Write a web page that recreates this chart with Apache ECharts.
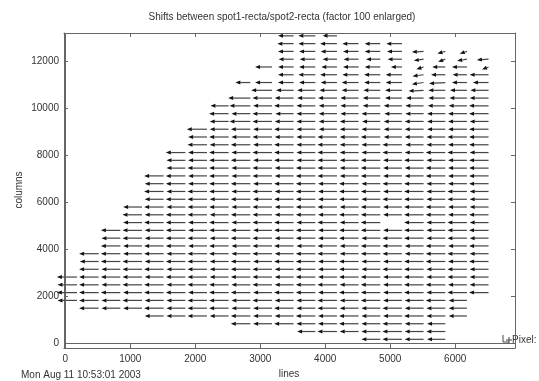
<!DOCTYPE html>
<html>
<head>
<meta charset="utf-8">
<script src="https://cdn.jsdelivr.net/npm/echarts@6/dist/echarts.min.js"></script>
<style>
  html, body { margin: 0; padding: 0; background: #fff; }
  #chart { width: 539px; height: 381px; }
</style>
</head>
<body>
<div id="chart"></div>
<script>
// tail positions of the measurement grid (lines / columns)
var colX = [180, 513, 847, 1180, 1513, 1847, 2180, 2513, 2847, 3180,
            3513, 3847, 4180, 4513, 4847, 5180, 5513, 5847, 6180, 6513];
var rowY = [170, 501, 832, 1163, 1494, 1825, 2156, 2487, 2818, 3149,
            3480, 3811, 4142, 4473, 4804, 5135, 5466, 5797, 6128, 6459,
            6790, 7121, 7452, 7783, 8114, 8445, 8776, 9107, 9438, 9769,
            10100, 10431, 10762, 11093, 11424, 11755, 12086, 12417, 12748, 13079];

// first grid column that has a vector, for each row (bottom to top)
var rowStart = [14, 11, 8, 4, 1, 0, 0, 0, 0, 1, 1, 1, 2, 2, 2, 3, 3, 3, 4, 4,
                4, 4, 5, 5, 5, 6, 6, 6, 7, 7, 7, 8, 9, 8, 10, 9, 10, 10, 10, 10];

// shift in x (pixel), one entry per vector of the row, null = no vector
var shiftX = [
  [-2.9, -3.0, -2.9, -2.8],
  [-2.8, -3.0, -2.9, -2.9, -3.0, -2.9, -2.9],
  [-3.0, -2.9, -3.0, -2.9, -2.9, -3.0, -2.9, -3.0, -2.9, -2.8],
  [-2.9, -2.9, -3.0, -2.9, -3.0, -2.9, -2.9, -3.0, -2.9, -3.0, -2.9, -2.9, -3.0, -2.9, -2.8],
  [-3.0, -2.9, -2.9, -3.0, -2.9, -3.0, -3.0, -2.9, -2.9, -3.0, -2.9, -3.0, -2.9, -2.9, -3.0, -2.9, -2.9, -2.8],
  [-3.0, -3.0, -2.9, -3.0, -2.9, -2.9, -3.0, -3.0, -2.9, -3.0, -2.9, -2.9, -3.0, -2.9, -3.0, -2.9, -2.9, -3.0, -2.8],
  [-3.1, -3.0, -3.0, -2.9, -3.0, -3.0, -2.9, -3.0, -3.0, -2.9, -3.0, -3.0, -2.9, -3.0, -3.0, -2.9, -3.0, -2.9, -3.0, -3.0],
  [-3.0, -3.0, -2.9, -3.0, -3.0, -2.9, -3.0, -3.0, -2.9, -3.0, -2.9, -3.0, -3.0, -2.9, -3.0, -2.9, -3.0, -3.0, -2.9, -2.9],
  [-3.1, -3.0, -3.0, -3.0, -2.9, -3.0, -3.0, -2.9, -3.0, -3.0, -2.9, -3.0, -2.9, -3.0, -3.0, -2.9, -3.0, -2.9, -3.0, -2.9],
  [-3.0, -2.9, -3.0, -3.0, -2.9, -3.0, -2.9, -3.0, -3.0, -2.9, -3.0, -2.9, -3.0, -2.9, -3.0, -3.0, -2.9, -3.0, -2.9],
  [-2.9, -3.0, -3.0, -2.9, -3.0, -3.0, -2.9, -3.0, -2.9, -3.0, -3.0, -2.9, -3.0, -2.9, -2.9, -3.0, -3.0, -2.9, -3.0],
  [-3.0, -3.0, -2.9, -3.0, -2.9, -3.0, -3.0, -2.9, -3.0, -2.9, -3.0, -3.0, -2.9, -3.0, -3.0, -2.9, -3.0, -3.0, -2.9],
  [-3.0, -2.9, -3.0, -3.0, -2.9, -3.0, -2.9, -3.0, -3.0, -2.9, -3.0, -2.9, -3.0, -3.0, -2.9, -3.0, -2.9, -3.0],
  [-2.9, -3.0, -2.9, -3.0, -3.0, -2.9, -3.0, -3.0, -2.9, -3.0, -2.9, -3.0, -2.9, -3.0, -3.0, -2.9, -3.0, -2.9],
  [-3.0, -3.0, -2.9, -3.0, -2.9, -3.0, -3.0, -2.9, -3.0, -3.0, -2.9, -3.0, -3.0, -2.9, -3.0, -2.9, -3.0, -3.0],
  [-2.9, -3.0, -3.0, -2.9, -3.0, -2.9, -3.0, -3.0, -2.9, -3.0, -2.9, -3.0, null, -3.0, -2.9, -3.0, -2.9],
  [-3.0, -2.9, -3.0, -3.0, -2.9, -3.0, -3.0, -2.9, -3.0, -2.9, -3.0, -3.0, -2.9, -3.0, -3.0, -2.9, -3.0],
  [-2.9, -3.0, -2.9, -3.0, -3.0, -2.9, -3.0, -2.9, -3.0, -3.0, -2.9, -3.0, -2.9, -3.0, -3.0, -2.9, -2.9],
  [-2.9, -3.0, -3.0, -2.9, -3.0, -2.9, -3.0, -3.0, -2.9, -3.0, -2.9, -3.0, -3.0, -2.9, -3.0, -2.9],
  [-3.0, -2.9, -3.0, -3.0, -2.9, -3.0, -2.9, -3.0, -2.9, -3.0, -3.0, -2.9, -3.0, -2.9, -3.0, -2.9],
  [-2.9, -3.0, -2.9, -3.0, -3.0, -2.9, -3.0, -3.0, -2.9, -3.0, -2.9, -3.0, -3.0, -2.9, -2.9, -3.0],
  [-3.0, -3.0, -2.9, -3.0, -2.9, -3.0, -2.9, -3.0, -3.0, -2.9, -3.0, -2.9, -2.9, -3.0, -2.9, -3.0],
  [-2.9, -3.0, -3.0, -2.9, -3.0, -2.9, -3.0, -3.0, -2.9, -3.0, -2.9, -2.9, -3.0, -2.9, -3.0],
  [-2.9, -2.9, -3.0, -3.0, -2.9, -3.0, -2.9, -3.0, -2.9, -3.0, -2.9, -3.0, -2.9, -2.9, -3.0],
  [-3.0, -2.9, -3.0, -2.9, -3.0, -3.0, -2.9, -3.0, -2.9, -2.9, -3.0, -2.9, -3.0, -3.0, -2.9],
  [-3.0, -2.9, -3.0, -2.9, -3.0, -2.9, -3.0, -2.9, -2.9, -3.0, -2.8, -2.9, -2.9, -3.0],
  [-2.9, -3.0, -2.9, -3.0, -2.9, -2.9, -3.0, -2.9, -3.0, -2.8, -2.9, -2.9, -3.0, -3.0],
  [-3.1, -2.9, -3.0, -2.9, -3.0, -2.9, -2.8, -2.9, -2.9, -2.8, -2.9, -2.8, -2.9, -3.0],
  [-2.9, -3.2, -3.0, -2.9, -2.9, -2.8, -2.9, -2.8, -2.8, -2.9, -2.8, -2.9, -2.9],
  [-3.0, -2.9, -3.0, -2.8, -2.9, -2.8, -2.8, -2.9, -2.7, -2.8, -2.8, -2.9, -3.0],
  [-2.8, -3.2, -2.9, -3.0, -2.9, -2.8, -2.8, -2.7, -2.8, -2.8, -2.7, -2.8, -3.0],
  [-3.4, -3.0, -2.9, -2.8, -2.9, -2.8, -2.7, -2.6, -2.7, -2.6, -2.7, -2.9],
  [-3.2, -2.7, -2.8, -2.7, -2.6, -2.6, -2.6, -2.3, -2.6, -2.6, -2.8],
  [-2.3, -2.6, -2.4, -2.5, -2.5, -2.6, -2.5, -2.5, -1.8, -2.5, -2.3, -2.4],
  [-2.4, -2.6, -2.6, -2.5, -2.5, -2.5, -1.7, -2.2, -2.2, -2.9],
  [-2.6, -2.4, -2.5, -2.4, -2.4, -2.4, -1.7, -1.1, -2.0, -2.3, -1.0],
  [-2.3, -2.4, -2.2, -2.3, -2.2, -2.2, -1.5, -1.1, -1.5, -1.8],
  [-2.4, -2.5, -2.5, -2.4, -2.4, -2.3, -1.8, -1.2, -1.1],
  [-2.5, -2.6, -2.6, -2.5, -2.4, -2.4],
  [-2.4, -2.6, -2.2]
];

// vectors with a visible shift in y: [row, column, shift]
var shiftY = [
  [37, 16, -0.3], [37, 17, -0.9], [37, 18, -1.0],
  [36, 16, -0.6], [36, 17, -1.1], [36, 18, -0.7], [36, 19, -0.3],
  [35, 16, -1.0], [35, 19, -1.1],
  [34, 16, -0.6], [33, 16, -0.7], [33, 17, -0.4], [32, 16, -0.3]
];

var factor = 100; // vectors drawn 100 times enlarged
var xTicks = [0, 1000, 2000, 3000, 4000, 5000, 6000];
var yTicks = [0, 2000, 4000, 6000, 8000, 10000, 12000];

var font = 'Liberation Sans, Arial, Helvetica, sans-serif';
var textColor = '#333';
var frameColor = '#666';

var dyMap = {};
shiftY.forEach(function (s) { dyMap[s[0] + '_' + s[1]] = s[2]; });

var vectors = [];
for (var k = 0; k < rowY.length; k++) {
  var row = shiftX[k];
  for (var j = 0; j < row.length; j++) {
    if (row[j] === null) continue;
    var i = rowStart[k] + j;
    var dy = dyMap[k + '_' + i] || 0;
    vectors.push([colX[i], rowY[k], row[j] * factor, dy * factor]);
  }
}

var myChart = echarts.init(document.getElementById('chart'), null, { renderer: 'canvas' });

function plain(v) { return String(v); }

function xAxisOf(pos, showLabel) {
  return {
    type: 'value',
    position: pos,
    min: -20,
    max: 6920,
    axisLine: { show: true, onZero: false, lineStyle: { color: frameColor, width: 1 } },
    axisTick: { show: true, inside: true, length: 4, customValues: xTicks, lineStyle: { color: frameColor } },
    axisLabel: {
      show: showLabel, customValues: xTicks, margin: 6, formatter: plain,
      fontFamily: font, fontSize: 10, color: textColor
    },
    splitLine: { show: false }
  };
}
function yAxisOf(pos, showLabel) {
  return {
    type: 'value',
    position: pos,
    min: -200,
    max: 13200,
    axisLine: { show: true, onZero: false, lineStyle: { color: frameColor, width: 1 } },
    axisTick: { show: true, inside: true, length: 4, customValues: yTicks, lineStyle: { color: frameColor } },
    axisLabel: {
      show: showLabel, customValues: yTicks, margin: 5, formatter: plain,
      fontFamily: font, fontSize: 10, color: textColor
    },
    splitLine: { show: false }
  };
}

var option = {
  backgroundColor: '#fff',
  animation: false,
  grid: { left: 64, top: 33, width: 451, height: 315, containLabel: false },
  xAxis: [xAxisOf('bottom', true), xAxisOf('top', false)],
  yAxis: [yAxisOf('left', true), yAxisOf('right', false)],
  graphic: [
    {
      type: 'text', x: 282, y: 17,
      style: {
        text: 'Shifts between spot1-recta/spot2-recta (factor 100 enlarged)',
        font: '10px ' + font, fill: textColor, align: 'center', verticalAlign: 'middle'
      }
    },
    {
      type: 'text', x: 19, y: 190, rotation: Math.PI / 2,
      style: {
        text: 'columns', font: '10px ' + font, fill: textColor,
        align: 'center', verticalAlign: 'middle'
      }
    },
    {
      type: 'text', x: 289, y: 374,
      style: { text: 'lines', font: '10px ' + font, fill: textColor, align: 'center', verticalAlign: 'middle' }
    },
    {
      type: 'text', x: 21, y: 375,
      style: { text: 'Mon Aug 11 10:53:01 2003', font: '10px ' + font, fill: textColor, verticalAlign: 'middle' }
    },
    {
      type: 'text', x: 512, y: 340,
      style: { text: 'Pixel:', font: '10px ' + font, fill: textColor, verticalAlign: 'middle' }
    },
    {
      type: 'polyline',
      shape: { points: [[503, 335], [503, 342], [509, 342]] },
      style: { stroke: '#444', lineWidth: 1, fill: null }
    },
    {
      type: 'polyline',
      shape: { points: [[506, 340], [512, 340]] },
      style: { stroke: '#444', lineWidth: 1, fill: null }
    },
    {
      type: 'polyline',
      shape: { points: [[509, 337], [509, 344]] },
      style: { stroke: '#444', lineWidth: 1, fill: null }
    }
  ],
  series: [
    {
      type: 'custom',
      name: 'Pixel',
      xAxisIndex: 0,
      yAxisIndex: 0,
      clip: false,
      data: vectors,
      renderItem: function (params, api) {
        var p0 = api.coord([api.value(0), api.value(1)]);
        var p1 = api.coord([api.value(0) + api.value(2), api.value(1) + api.value(3)]);
        var ang = Math.atan2(p1[1] - p0[1], p1[0] - p0[0]);
        var hl = 5, hw = 2;
        var bx = p1[0] - hl * Math.cos(ang), by = p1[1] - hl * Math.sin(ang);
        var nx = -Math.sin(ang) * hw, ny = Math.cos(ang) * hw;
        return {
          type: 'group',
          children: [
            {
              type: 'line',
              shape: { x1: p0[0], y1: p0[1], x2: bx, y2: by },
              style: { stroke: '#444', lineWidth: 1.2 }
            },
            {
              type: 'polygon',
              shape: { points: [[p1[0], p1[1]], [bx + nx, by + ny], [bx - nx, by - ny]] },
              style: { fill: '#111' }
            }
          ]
        };
      },
      markLine: {
        silent: true,
        symbol: 'none',
        label: { show: false },
        lineStyle: { color: frameColor, type: 'solid', width: 1 },
        data: [{ yAxis: 0 }, { xAxis: 0 }]
      }
    }
  ]
};

myChart.setOption(option);
</script>
</body>
</html>
